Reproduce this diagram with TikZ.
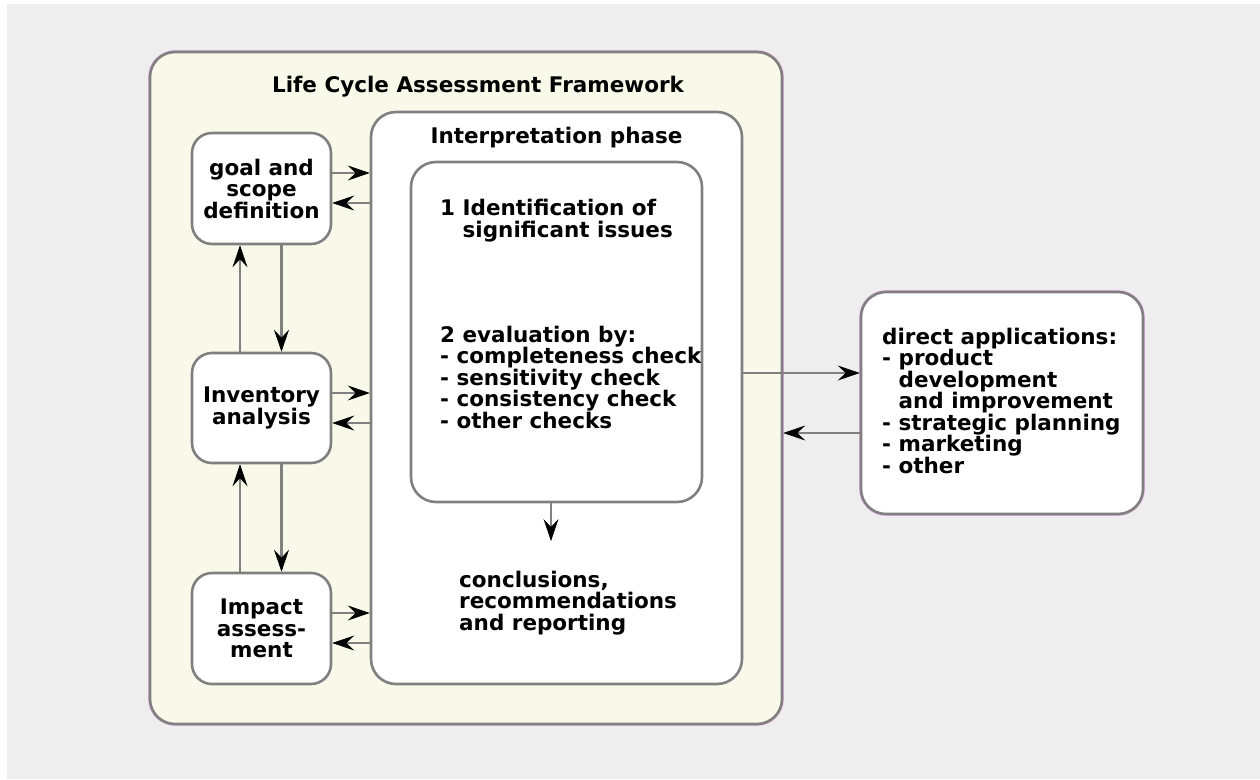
\documentclass[tikz,border=0pt]{standalone}
\usepackage{fontspec}
\setmainfont{DejaVu Sans}
\usetikzlibrary{arrows.meta,calc}
\definecolor{bgray}{RGB}{238,238,238}
\definecolor{framefill}{RGB}{249,249,234}
\definecolor{edge}{RGB}{128,128,128}
\definecolor{pinkedge}{RGB}{230,180,230}
\begin{document}
\begin{tikzpicture}[x=1pt,y=-1pt,
  txt/.style={font=\fontsize{21.5}{21.5}\selectfont\bfseries, inner sep=0pt},
  box/.style={draw=edge, line width=2.6pt, fill=white, rounded corners=20pt, align=center, txt},
  panel/.style={draw=edge, line width=2.6pt, fill=white, rounded corners=25pt, inner sep=0pt},
  arr/.style={draw=edge, line width=2.6pt, -{Stealth[length=22pt,width=15pt,inset=8pt,line width=0.6pt,color=black]}}
]
\useasboundingbox (0,0) rectangle (1260,779);
\fill[white] (0,0) rectangle (1260,779);
\fill[bgray] (7,4) rectangle (1260,779);

% outer framework
\draw[pinkedge, line width=3.8pt, rounded corners=25pt] (150,52) rectangle (782,724);
\node[panel, fill=framefill, minimum width=632pt, minimum height=672pt] (frame) at (466,388) {};
\node[txt, anchor=base] (title) at (478,92) {Life Cycle Assessment Framework};

% left boxes
\node[box, minimum width=139pt, minimum height=111pt] (goal) at (261.5,188.5) {goal and\\scope\\definition};
\node[box, minimum width=139pt, minimum height=110pt] (inv) at (261.5,408) {Inventory\\analysis};
\node[box, minimum width=139pt, minimum height=111pt] (imp) at (261.5,628.5) {Impact\\assess-\\ment};

% interpretation
\node[panel, minimum width=371pt, minimum height=572pt] (interp) at (556.5,398) {};
\node[txt, anchor=base] (interptitle) at (556.5,143) {Interpretation phase};
\node[panel, minimum width=291pt, minimum height=340pt] (inner) at (556.5,332) {};
\node[txt, anchor=base west, align=left] (ident) at (440,237) {1 Identification of\\\phantom{1 }significant issues};
\node[txt, anchor=base west, align=left] (eval) at (440,428) {2 evaluation by:\\- completeness check\\- sensitivity check\\- consistency check\\- other checks};
\node[txt, anchor=base west, align=left] (concl) at (459,630) {conclusions,\\recommendations\\and reporting};
\coordinate (cend) at (551,541);

% direct applications
\draw[pinkedge, line width=3.8pt, rounded corners=25pt] (861,292) rectangle (1143,514);
\node[panel, minimum width=282pt, minimum height=222pt] (direct) at (1002,403) {};
\node[txt, anchor=base west, align=left] (apps) at (882,473) {direct applications:\\- product\\\phantom{- }development\\\phantom{- }and improvement\\- strategic planning\\- marketing\\- other};

% arrows left boxes <-> interpretation
\draw[arr] ([yshift=15.5pt]goal.east) -- ([yshift=15.5pt]goal.east -| interp.west);
\draw[arr] ([yshift=-14.5pt]goal.east -| interp.west) -- ([yshift=-14.5pt]goal.east);
\draw[arr] ([yshift=15pt]inv.east) -- ([yshift=15pt]inv.east -| interp.west);
\draw[arr] ([yshift=-15pt]inv.east -| interp.west) -- ([yshift=-15pt]inv.east);
\draw[arr] ([yshift=15.5pt]imp.east) -- ([yshift=15.5pt]imp.east -| interp.west);
\draw[arr] ([yshift=-14.5pt]imp.east -| interp.west) -- ([yshift=-14.5pt]imp.east);

% vertical arrows
\draw[arr] ([xshift=-21.5pt]inv.north) -- ([xshift=-21.5pt]inv.north |- goal.south);
\draw[arr] ([xshift=20pt]goal.south) -- ([xshift=20pt]goal.south |- inv.north);
\draw[arr] ([xshift=-21.5pt]imp.north) -- ([xshift=-21.5pt]imp.north |- inv.south);
\draw[arr] ([xshift=20pt]inv.south) -- ([xshift=20pt]inv.south |- imp.north);

% inner to conclusions
\draw[arr] (inner.south -| cend) -- (cend);

% interpretation <-> direct applications
\draw[arr] ([yshift=30pt]direct.west -| interp.east) -- ([yshift=30pt]direct.west);
\draw[arr] ([yshift=-30pt]direct.west) -- ([yshift=-30pt]direct.west -| frame.east);
\end{tikzpicture}
\end{document}
